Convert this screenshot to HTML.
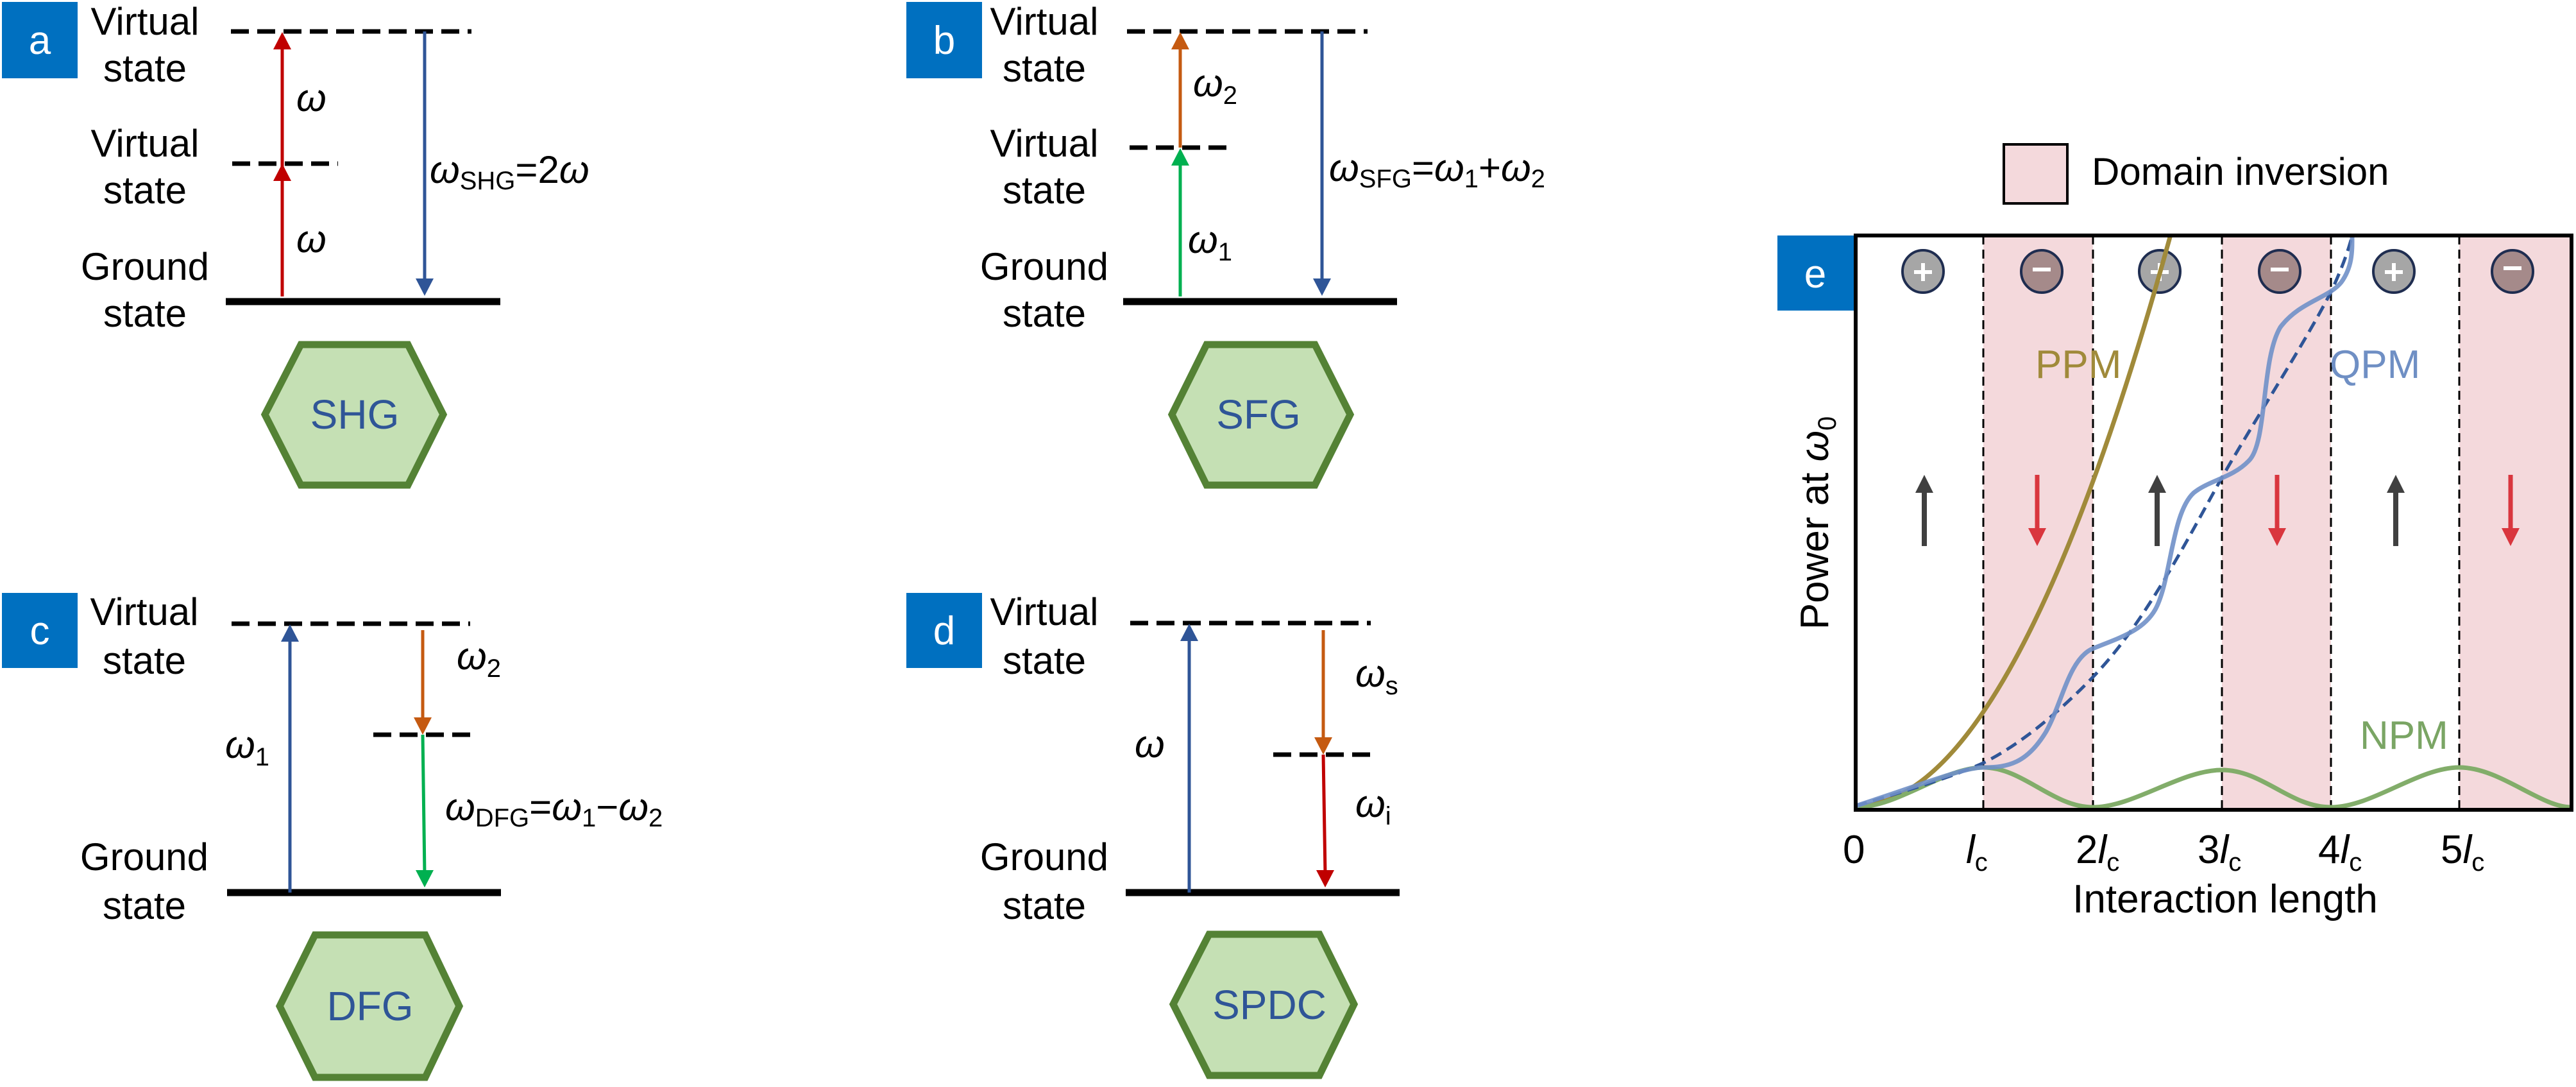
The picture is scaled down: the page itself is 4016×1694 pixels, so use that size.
<!DOCTYPE html>
<html><head><meta charset="utf-8"><style>
html,body{margin:0;padding:0;background:#fff}
svg{display:block}
text{font-family:"Liberation Sans",Arial,sans-serif}
.st{font-size:60px;fill:#000;text-anchor:middle}
.w{font-size:60px;font-style:italic;fill:#000}
.sub{font-size:40px;font-style:normal}
.hx{fill:#c5e0b4;stroke:#548235;stroke-width:11}
.ht{font-size:64px;fill:#2f5597;text-anchor:middle}
.lb{font-size:62px;fill:#fff;text-anchor:middle}
.dash{stroke:#000;stroke-width:7;stroke-dasharray:28 13}
</style></head><body>
<svg width="4016" height="1694" viewBox="0 0 4016 1694" xmlns="http://www.w3.org/2000/svg">
<defs>
<clipPath id="pc"><rect x="2893" y="367" width="1116" height="895"/></clipPath>
</defs>

<!-- Panel a -->
<rect x="3" y="3" width="118" height="119" fill="#0070c0"/>
<text class="lb" x="62" y="84">a</text>
<text class="st" x="226" y="54">Virtual</text><text class="st" x="226" y="127">state</text>
<text class="st" x="226" y="244">Virtual</text><text class="st" x="226" y="317">state</text>
<text class="st" x="226" y="436">Ground</text><text class="st" x="226" y="509">state</text>
<line class="dash" x1="360" y1="49" x2="735" y2="49"/>
<line class="dash" x1="362" y1="255" x2="527" y2="255"/>
<line x1="352" y1="470" x2="780" y2="470" stroke="#000" stroke-width="11"/>
<line x1="440" y1="462" x2="440" y2="270" stroke="#c00000" stroke-width="5"/>
<polygon points="440,255 426,282 454,282" fill="#c00000"/>
<line x1="440" y1="262" x2="440" y2="64" stroke="#c00000" stroke-width="5"/>
<polygon points="440,50 426,77 454,77" fill="#c00000"/>
<line x1="662" y1="49" x2="662" y2="440" stroke="#2f5597" stroke-width="5"/>
<polygon points="662,461 648,434 676,434" fill="#2f5597"/>
<text class="w" x="462" y="173">ω</text>
<text class="w" x="462" y="393">ω</text>
<text class="w" x="670" y="285">ω<tspan class="sub" dy="10">SHG</tspan><tspan dy="-10" style="font-style:normal">=2</tspan>ω</text>
<polygon class="hx" points="469,537 636,537 691,646 636,756 469,756 413,646"/>
<text class="ht" x="553" y="668">SHG</text>

<!-- Panel b -->
<rect x="1413" y="3" width="118" height="119" fill="#0070c0"/>
<text class="lb" x="1472" y="84">b</text>
<text class="st" x="1628" y="54">Virtual</text><text class="st" x="1628" y="127">state</text>
<text class="st" x="1628" y="244">Virtual</text><text class="st" x="1628" y="317">state</text>
<text class="st" x="1628" y="436">Ground</text><text class="st" x="1628" y="509">state</text>
<line class="dash" x1="1757" y1="49" x2="2132" y2="49"/>
<line class="dash" x1="1761" y1="230" x2="1924" y2="230"/>
<line x1="1751" y1="470" x2="2178" y2="470" stroke="#000" stroke-width="11"/>
<line x1="1840" y1="462" x2="1840" y2="245" stroke="#00b050" stroke-width="5"/>
<polygon points="1840,231 1826,258 1854,258" fill="#00b050"/>
<line x1="1840" y1="230" x2="1840" y2="64" stroke="#c55a11" stroke-width="5"/>
<polygon points="1840,50 1826,77 1854,77" fill="#c55a11"/>
<line x1="2061" y1="49" x2="2061" y2="440" stroke="#2f5597" stroke-width="5"/>
<polygon points="2061,461 2047,434 2075,434" fill="#2f5597"/>
<text class="w" x="1860" y="150">ω<tspan class="sub" dy="12">2</tspan></text>
<text class="w" x="1852" y="394">ω<tspan class="sub" dy="12">1</tspan></text>
<text class="w" x="2072" y="282">ω<tspan class="sub" dy="10">SFG</tspan><tspan dy="-10" style="font-style:normal">=</tspan>ω<tspan class="sub" dy="10">1</tspan><tspan dy="-10" style="font-style:normal">+</tspan>ω<tspan class="sub" dy="10">2</tspan></text>
<polygon class="hx" points="1881,537 2050,537 2105,646 2050,756 1881,756 1827,646"/>
<text class="ht" x="1962" y="668">SFG</text>

<!-- Panel c -->
<rect x="3" y="924" width="118" height="117" fill="#0070c0"/>
<text class="lb" x="62" y="1004">c</text>
<text class="st" x="225" y="974">Virtual</text><text class="st" x="225" y="1050">state</text>
<text class="st" x="225" y="1356">Ground</text><text class="st" x="225" y="1432">state</text>
<line class="dash" x1="361" y1="972" x2="733" y2="972"/>
<line class="dash" x1="582" y1="1145" x2="745" y2="1145"/>
<line x1="354" y1="1391" x2="781" y2="1391" stroke="#000" stroke-width="11"/>
<line x1="452" y1="1391" x2="452" y2="988" stroke="#2f5597" stroke-width="5"/>
<polygon points="452,973 438,1000 466,1000" fill="#2f5597"/>
<line x1="659" y1="982" x2="659" y2="1125" stroke="#c55a11" stroke-width="5"/>
<polygon points="659,1145 645,1118 673,1118" fill="#c55a11"/>
<line x1="659" y1="1145" x2="662" y2="1362" stroke="#00b050" stroke-width="5"/>
<polygon points="662,1383 648,1356 676,1356" fill="#00b050"/>
<text class="w" x="712" y="1043">ω<tspan class="sub" dy="12">2</tspan></text>
<text class="w" x="351" y="1181">ω<tspan class="sub" dy="12">1</tspan></text>
<text class="w" x="694" y="1278">ω<tspan class="sub" dy="10">DFG</tspan><tspan dy="-10" style="font-style:normal">=</tspan>ω<tspan class="sub" dy="10">1</tspan><tspan dy="-10" style="font-style:normal">−</tspan>ω<tspan class="sub" dy="10">2</tspan></text>
<polygon class="hx" points="491,1457 663,1457 716,1568 663,1679 491,1679 436,1568"/>
<text class="ht" x="577" y="1590">DFG</text>

<!-- Panel d -->
<rect x="1413" y="924" width="118" height="117" fill="#0070c0"/>
<text class="lb" x="1472" y="1004">d</text>
<text class="st" x="1628" y="974">Virtual</text><text class="st" x="1628" y="1050">state</text>
<text class="st" x="1628" y="1356">Ground</text><text class="st" x="1628" y="1432">state</text>
<line class="dash" x1="1762" y1="971" x2="2137" y2="971"/>
<line class="dash" x1="1985" y1="1176" x2="2148" y2="1176"/>
<line x1="1755" y1="1391" x2="2182" y2="1391" stroke="#000" stroke-width="11"/>
<line x1="1854" y1="1391" x2="1854" y2="987" stroke="#2f5597" stroke-width="5"/>
<polygon points="1854,972 1840,999 1868,999" fill="#2f5597"/>
<line x1="2063" y1="982" x2="2063" y2="1156" stroke="#c55a11" stroke-width="5"/>
<polygon points="2063,1176 2049,1149 2077,1149" fill="#c55a11"/>
<line x1="2063" y1="1176" x2="2066" y2="1362" stroke="#c00000" stroke-width="5"/>
<polygon points="2066,1383 2052,1356 2080,1356" fill="#c00000"/>
<text class="w" x="1769" y="1180">ω</text>
<text class="w" x="2113" y="1070">ω<tspan class="sub" dy="12">s</tspan></text>
<text class="w" x="2113" y="1273">ω<tspan class="sub" dy="12">i</tspan></text>
<polygon class="hx" points="1885,1456 2057,1456 2111,1565 2057,1676 1885,1676 1829,1565"/>
<text class="ht" x="1979" y="1588">SPDC</text>

<!-- Panel e legend -->
<rect x="3124" y="225" width="99" height="92" fill="#f4d9dc" stroke="#000" stroke-width="4"/>
<text x="3261" y="288" style="font-size:60px">Domain inversion</text>

<!-- Panel e plot -->
<rect x="2771" y="367" width="119" height="117" fill="#0070c0"/>
<text class="lb" x="2830" y="448">e</text>
<rect x="3092" y="367" width="171" height="895" fill="#f4d9dc"/>
<rect x="3464" y="367" width="170" height="895" fill="#f4d9dc"/>
<rect x="3834" y="367" width="175" height="895" fill="#f4d9dc"/>
<g stroke="#000" stroke-width="3" stroke-dasharray="14 8">
<line x1="3092" y1="367" x2="3092" y2="1262"/>
<line x1="3263" y1="367" x2="3263" y2="1262"/>
<line x1="3464" y1="367" x2="3464" y2="1262"/>
<line x1="3634" y1="367" x2="3634" y2="1262"/>
<line x1="3834" y1="367" x2="3834" y2="1262"/>
</g>
<!-- charges -->
<g stroke="#1f2d50" stroke-width="4">
<ellipse cx="2998" cy="423" rx="32" ry="33" fill="#a6a6a6"/>
<ellipse cx="3183" cy="423" rx="32" ry="33" fill="#a58a8a"/>
<ellipse cx="3367" cy="423" rx="32" ry="33" fill="#a6a6a6"/>
<ellipse cx="3554" cy="423" rx="32" ry="33" fill="#a58a8a"/>
<ellipse cx="3732" cy="423" rx="32" ry="33" fill="#a6a6a6"/>
<ellipse cx="3917" cy="423" rx="32" ry="33" fill="#a58a8a"/>
</g>
<g stroke="#fff" stroke-width="6">
<line x1="2984" y1="424" x2="3012" y2="424"/><line x1="2998" y1="410" x2="2998" y2="438"/>
<line x1="3169" y1="420" x2="3197" y2="420"/>
<line x1="3353" y1="424" x2="3381" y2="424"/><line x1="3367" y1="410" x2="3367" y2="438"/>
<line x1="3540" y1="420" x2="3568" y2="420"/>
<line x1="3718" y1="424" x2="3746" y2="424"/><line x1="3732" y1="410" x2="3732" y2="438"/>
<line x1="3903" y1="418" x2="3931" y2="418"/>
</g>
<!-- dipole arrows -->
<g fill="#404040" stroke="#404040" stroke-width="8">
<line x1="3000" y1="851" x2="3000" y2="765"/><polygon stroke="none" points="3000,740 2986,768 3014,768"/>
<line x1="3363" y1="851" x2="3363" y2="765"/><polygon stroke="none" points="3363,740 3349,768 3377,768"/>
<line x1="3735" y1="851" x2="3735" y2="765"/><polygon stroke="none" points="3735,740 3721,768 3749,768"/>
</g>
<g fill="#d9363e" stroke="#d9363e" stroke-width="7">
<line x1="3176" y1="740" x2="3176" y2="826"/><polygon stroke="none" points="3176,851 3162,823 3190,823"/>
<line x1="3550" y1="740" x2="3550" y2="826"/><polygon stroke="none" points="3550,851 3536,823 3564,823"/>
<line x1="3914" y1="740" x2="3914" y2="826"/><polygon stroke="none" points="3914,851 3900,823 3928,823"/>
</g>
<!-- curves -->
<g clip-path="url(#pc)" fill="none">
<path d="M2893,1256 Q3141,1256 3390,344" stroke="#a08a3a" stroke-width="7"/>
<path d="M2893,1258 C2960,1258 3030,1196 3092,1196 S3200,1258 3263,1258 S3400,1200 3464,1200 S3570,1258 3634,1258 S3770,1196 3834,1196 S3960,1258 4009,1258" stroke="#82ad6a" stroke-width="7"/>
<path d="M2893,1256 C2980,1230 3040,1212 3092,1189 C3150,1160 3210,1110 3263,1055 C3340,975 3400,860 3464,744 C3530,630 3590,540 3634,455 C3648,425 3660,395 3667,367" stroke="#2f5597" stroke-width="5" stroke-dasharray="18 10"/>
<path d="M2893,1256 C2990,1225 3060,1196 3092,1196 C3130,1196 3160,1190 3190,1140 C3215,1095 3225,1030 3260,1012 C3300,995 3340,985 3360,950 C3385,905 3385,800 3420,768 C3445,748 3480,745 3506,718 C3535,690 3525,560 3555,510 C3585,470 3630,465 3650,440 C3668,415 3667,390 3667,367" stroke="#7090c8" stroke-width="7" stroke-opacity="0.9"/>
</g>
<rect x="2893" y="367" width="1116" height="895" fill="none" stroke="#000" stroke-width="6"/>
<text x="3173" y="589" style="font-size:62px;fill:#a08a3a">PPM</text>
<text x="3632" y="589" style="font-size:62px;fill:#6f8fc4">QPM</text>
<text x="3679" y="1167" style="font-size:62px;fill:#7aa564">NPM</text>
<!-- axes labels -->
<g style="font-size:62px">
<text x="2873" y="1345">0</text>
<text x="3065" y="1345"><tspan font-style="italic">l</tspan><tspan class="sub" dy="12">c</tspan></text>
<text x="3236" y="1345">2<tspan font-style="italic">l</tspan><tspan class="sub" dy="12">c</tspan></text>
<text x="3426" y="1345">3<tspan font-style="italic">l</tspan><tspan class="sub" dy="12">c</tspan></text>
<text x="3614" y="1345">4<tspan font-style="italic">l</tspan><tspan class="sub" dy="12">c</tspan></text>
<text x="3805" y="1345">5<tspan font-style="italic">l</tspan><tspan class="sub" dy="12">c</tspan></text>
<text x="3469" y="1422" text-anchor="middle">Interaction length</text>
<text transform="translate(2850,815) rotate(-90)" text-anchor="middle">Power at <tspan font-style="italic">ω</tspan><tspan class="sub" dy="12">0</tspan></text>
</g>
</svg>
</body></html>
